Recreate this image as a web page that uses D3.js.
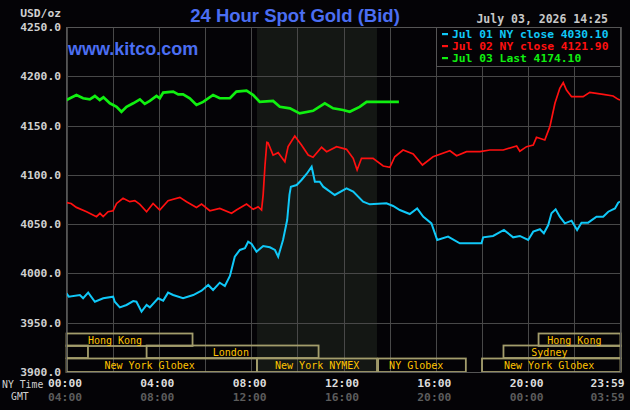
<!DOCTYPE html>
<html>
<head>
<meta charset="utf-8">
<script src="https://cdn.jsdelivr.net/npm/d3@7"></script>
<style>
  html, body { margin: 0; padding: 0; background: #040306; }
  svg { display: block; }
</style>
</head>
<body>
<div id="container"></div>
<script>
// hours after 00:00 NY time, price in USD/oz
var jul01 = [
  [0,3979.8],[0.1,3976.4],[0.58,3978.1],[0.72,3974.8],[0.94,3980.5],[1.23,3971.3],[1.59,3974.8],
  [2.02,3976.4],[2.09,3971.3],[2.31,3965.6],[2.6,3968],[2.89,3972],[3.03,3971.3],[3.25,3961.2],
  [3.47,3968],[3.61,3965.6],[3.97,3974.8],[4.19,3972.4],[4.4,3980.5],[4.62,3978.1],[5.05,3974.8],
  [5.49,3978.1],[5.85,3982.5],[6.14,3988.3],[6.35,3983.2],[6.64,3990.6],[6.86,3987.2],[7.08,3997.4],
  [7.29,4017],[7.51,4023.8],[7.73,4025.5],[7.87,4032.2],[8.02,4030],[8.23,4022.1],[8.52,4027.8],
  [8.81,4026.5],[9.03,4023.8],[9.17,4017],[9.38,4034],[9.56,4054.2],[9.66,4080],[9.72,4088],[9.97,4089.7],
  [10.18,4094.8],[10.4,4100.9],[10.62,4108.3],[10.76,4093.1],[10.97,4093.1],[11.12,4088],
  [11.62,4079.6],[12.13,4086.4],[12.42,4083],[12.85,4072.8],[13.14,4070.1],[13.86,4071.1],
  [14.15,4068.4],[14.44,4064.3],[14.87,4060.3],[15.19,4066],[15.45,4057.6],[15.81,4050.8],
  [16.06,4033.9],[16.53,4037.3],[17.04,4030.6],[17.98,4030.6],[18.05,4036.6],[18.48,4038],
  [18.95,4044.1],[19.35,4036.6],[19.64,4038],[20.0,4033.9],[20.22,4042.4],[20.51,4044.8],
  [20.68,4040.7],[20.87,4049.1],[21.01,4061],[21.19,4065],[21.37,4057.6],[21.59,4050.8],
  [21.88,4053.5],[22.12,4044.1],[22.31,4051.5],[22.6,4051.5],[22.96,4057.6],[23.25,4057.6],
  [23.47,4062.6],[23.76,4066],[23.9,4071.8],[23.98,4073]
];
var jul02 = [
  [0,4071.8],[0.2,4071],[0.43,4067],[0.87,4062.6],[1.3,4057.6],[1.45,4061],[1.59,4057.6],
  [1.8,4062.6],[2.02,4063.6],[2.17,4071],[2.45,4076.2],[2.74,4072.8],[2.96,4073.8],[3.18,4070],
  [3.47,4062.6],[3.75,4071],[4.04,4064.3],[4.4,4073.8],[4.91,4077.2],[5.2,4072.8],[5.63,4067],
  [5.85,4070.4],[6.21,4063.6],[6.64,4066],[7.15,4061],[7.36,4064.3],[7.8,4070.4],[8.09,4065],
  [8.3,4067.7],[8.45,4064.3],[8.52,4080],[8.6,4110],[8.68,4133],[8.73,4132.6],[8.95,4120],
  [9.17,4122.5],[9.46,4113.4],[9.6,4128.6],[9.89,4139.4],[10.18,4130.3],[10.47,4120.1],
  [10.68,4117.8],[11.05,4128],[11.27,4123.5],[11.7,4128.6],[12.13,4125.9],[12.42,4116.8],
  [12.59,4104.9],[12.78,4116.8],[13.28,4116.8],[13.72,4109],[14.01,4107.7],[14.22,4118.4],
  [14.58,4125.2],[15.02,4121.2],[15.42,4110],[15.88,4118.4],[16.61,4124.5],[16.9,4119.4],
  [17.33,4123.5],[17.91,4123.5],[18.34,4125.2],[18.92,4125.2],[19.5,4129.3],[19.64,4124],
  [19.93,4128.6],[20.22,4130.3],[20.36,4138.1],[20.72,4135.4],[20.94,4148.9],[21.16,4172.6],
  [21.37,4187.8],[21.52,4193.5],[21.66,4186.1],[21.88,4179.3],[22.38,4179.3],[22.67,4183.7],
  [23.25,4181.7],[23.68,4180],[23.9,4176.6],[23.98,4176]
];
var jul03 = [
  [0,4176],[0.43,4181],[0.72,4177.7],[1.01,4176.6],[1.23,4180],[1.44,4176],[1.6,4178.7],
  [1.88,4172.6],[2.17,4169],[2.38,4164],[2.6,4169],[2.89,4172.6],[3.18,4176.6],[3.39,4172],
  [3.61,4175],[3.9,4180],[4.04,4177.7],[4.19,4183.4],[4.62,4184.4],[4.84,4181.7],[5.05,4181.7],
  [5.34,4177.7],[5.63,4171],[5.92,4174],[6.35,4181],[6.64,4177.7],[7.08,4177.7],[7.36,4184.4],
  [7.8,4185.4],[8.09,4181],[8.37,4174],[8.95,4175],[9.24,4169],[9.68,4167.5],[10.1,4162.4],
  [10.68,4165],[11.19,4172.6],[11.55,4167.5],[11.98,4165.8],[12.27,4164],[12.7,4169],
  [13.0,4174.1],[14.4,4174.1]
];

var seriesNames = ['Jul 01 NY close 4030.10', 'Jul 02 NY close 4121.90', 'Jul 03 Last 4174.10'];
var seriesColors = ['#10c8f8', '#ff1010', '#10f010'];

var yTicks = [3900, 3950, 4000, 4050, 4100, 4150, 4200, 4250];
var nyLabels = ['00:00', '04:00', '08:00', '12:00', '16:00', '20:00', '23:59'];
var gmtLabels = ['04:00', '08:00', '12:00', '16:00', '20:00', '00:00', '03:59'];
var labelHours = [0, 4, 8, 12, 16, 20, 24];

var nymexHours = [8.25, 13.45];

// row 0 = top row of market boxes
var sessions = [
  { name: 'Hong Kong', row: 0, start: 0, end: 5.46, at: 2.1 },
  { name: 'Hong Kong', row: 0, start: 20.45, end: 24, at: 22.0 },
  { name: '', row: 1, start: 0, end: 0.93, at: 0.5 },
  { name: 'London', row: 1, start: 3.47, end: 10.92, at: 7.12 },
  { name: 'Sydney', row: 1, start: 18.93, end: 24, at: 20.92 },
  { name: 'New York Globex', row: 2, start: 0, end: 8.25, at: 3.6 },
  { name: 'New York NYMEX', row: 2, start: 8.25, end: 13.45, at: 10.86 },
  { name: 'NY Globex', row: 2, start: 13.5, end: 17.3, at: 15.15 },
  { name: 'New York Globex', row: 2, start: 18.0, end: 24, at: 20.91 }
];

var W = 630, H = 410;
var plotL = 66.5, plotR = 620.5, plotT = 27, plotB = 372;
var mono = '"DejaVu Sans Mono", monospace';
var sans = '"Liberation Sans", Arial, sans-serif';

var xScale = d3.scaleLinear().domain([0, 24]).range([plotL, plotR]);
var yScale = d3.scaleLinear().domain([3900, 4250]).range([plotB, plotT]);

function drawChart() {
  var svg = d3.select('#container').append('svg').attr('width', W).attr('height', H);
  svg.append('rect').attr('width', W).attr('height', H).attr('fill', '#040306');

  // NYMEX shading
  svg.append('rect')
    .attr('x', xScale(nymexHours[0])).attr('y', plotT)
    .attr('width', xScale(nymexHours[1]) - xScale(nymexHours[0]))
    .attr('height', plotB - plotT)
    .attr('fill', '#141714');

  // grid
  var grid = svg.append('g').attr('stroke', '#484848').attr('stroke-width', 1).attr('shape-rendering', 'crispEdges');
  grid.selectAll('line.v').data(d3.range(0, 25, 2)).enter().append('line')
    .attr('x1', function(d){ return Math.round(xScale(d)) + 0.5; })
    .attr('x2', function(d){ return Math.round(xScale(d)) + 0.5; })
    .attr('y1', plotT).attr('y2', plotB);
  grid.selectAll('line.h').data(yTicks).enter().append('line')
    .attr('x1', plotL).attr('x2', plotR)
    .attr('y1', function(d){ return Math.round(yScale(d)) + 0.5; })
    .attr('y2', function(d){ return Math.round(yScale(d)) + 0.5; });

  // market session boxes
  var rowTop = [333.5, 345.5, 358.5];
  var rowH = 12.5;
  var sess = svg.append('g');
  sess.selectAll('rect').data(sessions).enter().append('rect')
    .attr('x', function(d){ return xScale(d.start); })
    .attr('y', function(d){ return rowTop[d.row]; })
    .attr('width', function(d){ return xScale(d.end) - xScale(d.start); })
    .attr('height', function(d){ return d.row == 2 ? plotB - rowTop[2] : rowH; })
    .attr('fill', 'none').attr('stroke', '#a39d6c').attr('stroke-width', 1.8);
  sess.selectAll('text').data(sessions).enter().append('text')
    .attr('x', function(d){ return xScale(d.at); })
    .attr('y', function(d){ return rowTop[d.row] + 10; })
    .attr('text-anchor', 'middle')
    .attr('font-family', mono).attr('font-size', '10px')
    .attr('fill', '#ffc400')
    .text(function(d){ return d.name; });

  // price lines
  var line = d3.line().x(function(d){ return xScale(d[0]); }).y(function(d){ return yScale(d[1]); });
  var widths = [2, 1.7, 2.7];
  [jul01, jul02, jul03].forEach(function(s, i){
    svg.append('path').datum(s).attr('d', line)
      .attr('fill', 'none').attr('stroke', seriesColors[i])
      .attr('stroke-width', widths[i]).attr('stroke-linejoin', 'miter');
  });

  // frame
  svg.append('rect').attr('x', plotL).attr('y', plotT + 0.5)
    .attr('width', plotR - plotL).attr('height', plotB - plotT)
    .attr('fill', 'none').attr('stroke', '#555').attr('shape-rendering', 'crispEdges');

  // y labels
  svg.selectAll('text.y').data(yTicks).enter().append('text')
    .attr('x', 61).attr('y', function(d){ return yScale(d) + 4; })
    .attr('text-anchor', 'end')
    .attr('font-family', mono).attr('font-weight', 'bold').attr('font-size', '11.3px')
    .attr('fill', '#d0d0d0')
    .text(function(d){ return d3.format('.1f')(d); });
  svg.append('text').attr('x', 61).attr('y', 17).attr('text-anchor', 'end')
    .attr('font-family', mono).attr('font-weight', 'bold').attr('font-size', '11.3px')
    .attr('fill', '#d0d0d0').text('USD/oz');

  // x labels
  function xLabelPos(h) {
    return h == 24 ? xScale(h) - 13 : xScale(h) - 1.5;
  }
  svg.selectAll('text.ny').data(labelHours).enter().append('text')
    .attr('x', xLabelPos).attr('y', 387)
    .attr('text-anchor', 'middle')
    .attr('font-family', mono).attr('font-weight', 'bold').attr('font-size', '11.3px')
    .attr('fill', '#dcdcdc')
    .text(function(d, i){ return nyLabels[i]; });
  svg.selectAll('text.gmt').data(labelHours).enter().append('text')
    .attr('x', xLabelPos).attr('y', 401)
    .attr('text-anchor', 'middle')
    .attr('font-family', mono).attr('font-weight', 'bold').attr('font-size', '11.3px')
    .attr('fill', '#5c5c5c')
    .text(function(d, i){ return gmtLabels[i]; });
  svg.append('text').attr('x', 2).attr('y', 388)
    .attr('font-family', mono).attr('font-size', '9.8px').attr('fill', '#d0d0d0').text('NY Time');
  svg.append('text').attr('x', 11).attr('y', 400)
    .attr('font-family', mono).attr('font-size', '9.8px').attr('fill', '#d0d0d0').text('GMT');

  // titles
  svg.append('text').attr('x', 295).attr('y', 22).attr('text-anchor', 'middle')
    .attr('font-family', sans).attr('font-weight', 'bold').attr('font-size', '18.5px')
    .attr('fill', '#4b6ef2').text('24 Hour Spot Gold (Bid)');
  svg.append('text').attr('x', 68).attr('y', 55)
    .attr('font-family', sans).attr('font-weight', 'bold').attr('font-size', '18px')
    .attr('fill', '#4b6ef2').text('www.kitco.com');
  svg.append('text').attr('x', 608).attr('y', 23).attr('text-anchor', 'end')
    .attr('font-family', mono).attr('font-weight', 'bold').attr('font-size', '11.5px')
    .attr('fill', '#c8c8c8').text('July 03, 2026 14:25');

  // legend
  var lg = svg.append('g');
  var lgX = Math.round(xScale(16)) + 0.5;
  lg.append('rect').attr('x', lgX).attr('y', plotT + 0.5)
    .attr('width', plotR - lgX).attr('height', 39)
    .attr('fill', '#040306').attr('stroke', '#555').attr('shape-rendering', 'crispEdges');
  seriesNames.forEach(function(name, i){
    var cy = 34 + i * 12;
    lg.append('rect').attr('x', 442).attr('y', cy - 1).attr('width', 6).attr('height', 2.2)
      .attr('fill', seriesColors[i]);
    lg.append('text').attr('x', 452).attr('y', cy + 4)
      .attr('font-family', mono).attr('font-weight', 'bold').attr('font-size', '11.3px')
      .attr('fill', seriesColors[i]).text(name);
  });
}

window.onload = drawChart;
</script>
</body>
</html>
